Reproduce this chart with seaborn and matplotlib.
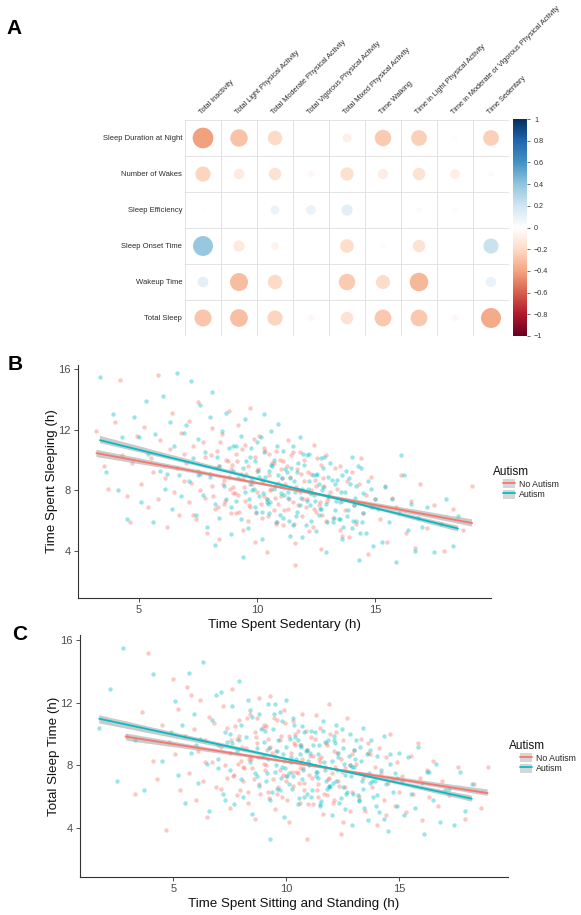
import numpy as np
import pandas as pd
import matplotlib
matplotlib.use("Agg")
import matplotlib.pyplot as plt
import seaborn as sns
from matplotlib.colors import LinearSegmentedColormap, Normalize
from matplotlib.collections import PolyCollection
from matplotlib.lines import Line2D
from matplotlib.patches import Patch
from matplotlib.legend_handler import HandlerTuple

sns.set_style("white")
plt.rcParams["font.family"] = ["Liberation Sans", "DejaVu Sans"]

# ---------------- Panel A data ----------------
activity_labels = ["Total Inactivity", "Total Light Physical Activity",
                   "Total Moderate Physical Activity", "Total Vigorous Physical Activity",
                   "Total Mixed Physical Activity", "Time Walking",
                   "Time in Light Physical Activity",
                   "Time in Moderate or Vigorous Physical Activity", "Time Sedentary"]
sleep_labels = ["Sleep Duration at Night", "Number of Wakes", "Sleep Efficiency",
                "Sleep Onset Time", "Wakeup Time", "Total Sleep"]
corr_values = [
    [-0.41, -0.29, -0.20, -0.01, -0.08, -0.26, -0.24, -0.02, -0.24],
    [-0.22, -0.11, -0.15, -0.04, -0.17, -0.10, -0.15, -0.09, -0.03],
    [0.01, 0.00, 0.08, 0.09, 0.12, 0.00, 0.03, 0.03, 0.005],
    [0.38, -0.12, -0.06, 0.005, -0.18, -0.03, -0.15, 0.00, 0.22],
    [0.11, -0.31, -0.20, 0.00, -0.26, -0.19, -0.33, -0.01, 0.10],
    [-0.28, -0.30, -0.22, -0.04, -0.15, -0.27, -0.27, -0.04, -0.38],
]
cbar_ticks = [1, 0.8, 0.6, 0.4, 0.2, 0, -0.2, -0.4, -0.6, -0.8, -1]
cbar_ticklabels = ["1", "0.8", "0.6", "0.4", "0.2", "0",
                   "\u22120.2", "\u22120.4", "\u22120.6", "\u22120.8", "\u22121"]

# ---------------- Panels B / C data ----------------
group_labels = ["No Autism", "Autism"]
group_colors = ["#F8766D", "#00BFC4"]

b_no_x = [3.2, 3.5, 3.7, 4.0, 4.2, 4.3, 4.5, 4.6, 4.7, 4.9,
          5.1, 5.2, 5.4, 5.5, 5.6, 5.8, 5.8, 5.9, 6.1, 6.2, 6.3, 6.4, 6.5, 6.6, 6.7, 6.8, 6.9, 6.9,
          7.0, 7.1, 7.1, 7.2, 7.3, 7.4, 7.5, 7.5, 7.6, 7.7, 7.8, 7.8, 7.9, 8.0, 8.1, 8.1, 8.2, 8.3, 8.4, 8.4,
          8.5, 8.6, 8.6, 8.7, 8.8, 8.8, 8.9, 8.9, 9.0, 7.3,
          9.0, 9.1, 9.1, 9.2, 9.2, 9.3, 9.4, 9.4, 9.5, 9.5, 9.6, 9.7, 9.7, 9.8, 9.9, 9.9, 10.0, 10.0,
          10.1, 10.2, 10.2, 10.3, 10.4, 10.4, 10.5, 10.5, 10.6, 10.7, 10.7, 10.8, 10.8, 10.9, 10.9, 11.0,
          9.6, 10.3,
          11.0, 11.1, 11.1, 11.2, 11.3, 11.3, 11.4, 11.5, 11.5, 11.6, 11.7, 11.8, 11.8, 11.9, 12.0, 12.0,
          12.1, 12.2, 12.3, 12.3, 12.4, 12.5, 12.5, 12.6, 12.7, 12.7, 12.8, 12.9, 12.9, 13.0, 11.6, 12.4,
          13.1, 13.2, 13.3, 13.4, 13.5, 13.5, 13.6, 13.7, 13.8, 13.9, 14.0, 14.1, 14.2, 14.3, 14.4, 14.5,
          14.6, 14.7, 14.8, 14.9, 15.0, 13.6,
          15.2, 15.4, 15.5, 15.7, 15.9, 16.1, 16.3, 16.5, 16.7, 16.9,
          17.2, 17.5, 17.9, 18.3, 18.7, 19.1,
          8.05, 8.15, 8.25, 8.35, 8.45, 8.55, 8.65, 8.75, 8.85, 8.95,
          9.05, 9.15, 9.25, 9.35, 9.45, 9.55, 9.65, 9.75, 9.85, 9.95,
          10.05, 10.15, 10.25, 10.35, 10.45, 10.55, 10.65, 10.75, 10.85, 10.95,
          11.05, 11.15, 11.25, 11.35, 11.45, 11.55, 11.65, 11.75, 11.85, 11.95,
          12.05, 12.15, 12.25, 12.35, 12.45, 12.55, 12.65, 12.75, 12.85, 12.95]
b_no_y = [11.9, 9.6, 8.1, 12.5, 15.3, 10.3, 7.6, 5.9, 9.8, 11.6,
          8.4, 12.2, 6.9, 10.1, 9.2, 15.6, 7.4, 11.3, 8.8, 5.6, 10.7, 13.1, 7.9, 9.5, 6.4, 11.8, 8.6, 10.4,
          9.8, 7.2, 12.6, 8.5, 10.9, 6.1, 9.3, 13.8, 8.0, 11.2, 7.5, 10.2, 5.2, 9.1, 12.1, 8.3, 6.8, 10.6, 9.6, 4.8,
          11.7, 8.7, 7.1, 10.0, 13.2, 8.9, 6.5, 9.4, 7.8, 6.4,
          8.2, 10.4, 6.5, 12.3, 7.7, 9.1, 5.4, 8.8, 11.0, 7.3, 9.6, 13.4, 6.9, 8.4, 10.2, 4.6, 7.9, 9.3,
          11.6, 6.2, 8.7, 10.8, 7.4, 3.9, 9.0, 10.4, 8.1, 6.7, 9.8, 5.8, 10.6, 8.5, 7.1, 9.4,
          6.0, 7.6,
          7.6, 9.9, 5.7, 8.4, 11.3, 6.8, 8.9, 10.5, 7.2, 4.5, 9.4, 7.9, 10.5, 6.3, 8.6, 10.0,
          7.4, 5.3, 9.1, 8.0, 11.0, 6.6, 8.3, 7.0, 9.7, 4.1, 8.8, 6.0, 10.3, 7.5, 3.1, 6.8,
          7.9, 6.2, 9.5, 8.1, 5.4, 9.6, 7.3, 6.7, 8.6, 4.9, 9.2, 7.0, 5.8, 8.4, 10.1, 6.5,
          7.7, 3.8, 8.9, 6.9, 7.4, 5.0,
          6.1, 8.3, 4.6, 7.5, 6.9, 9.0, 5.2, 7.3, 4.2, 8.4,
          5.5, 7.0, 4.0, 6.8, 5.4, 8.3,
          10.3, 7.6, 9.5, 6.9, 11.2, 8.4, 7.3, 9.9, 8.1, 9.7,
          7.8, 9.9, 6.6, 10.7, 8.2, 9.1, 7.0, 8.8, 11.4, 6.5,
          9.4, 7.1, 8.6, 10.6, 6.3, 8.0, 9.8, 7.5, 5.9, 10.0,
          8.8, 6.7, 9.6, 7.4, 10.3, 5.8, 8.2, 7.0, 9.1, 7.4,
          6.9, 9.2, 7.8, 5.6, 8.7, 10.1, 7.2, 6.4, 8.3, 7.3]

b_aut_x = [3.35, 3.6, 3.9, 4.1, 4.3, 4.5, 4.8, 5.0,
           5.1, 5.3, 5.4, 5.6, 5.7, 5.9, 6.0, 6.1, 6.3, 6.4, 6.5, 6.6, 6.7, 6.8, 6.9, 6.2,
           7.0, 7.1, 7.2, 7.3, 7.4, 7.5, 7.5, 7.6, 7.7, 7.8, 7.9, 8.0, 8.0, 8.1, 8.2, 8.3, 8.4, 8.4,
           8.5, 8.6, 8.7, 8.7, 8.8, 8.9, 9.0, 7.6, 8.2, 8.9,
           9.0, 9.1, 9.1, 9.2, 9.3, 9.3, 9.4, 9.5, 9.5, 9.6, 9.7, 9.7, 9.8, 9.9, 9.9, 10.0, 10.1, 10.1,
           10.2, 10.3, 10.3, 10.4, 10.5, 10.5, 10.6, 10.7, 10.7, 10.8, 10.9, 10.9, 11.0, 9.4, 9.8, 10.2,
           10.6, 10.4,
           11.0, 11.1, 11.1, 11.2, 11.3, 11.3, 11.4, 11.5, 11.5, 11.6, 11.7, 11.7, 11.8, 11.9, 11.9, 12.0,
           12.1, 12.1, 12.2, 12.3, 12.3, 12.4, 12.5, 12.5, 12.6, 12.7, 12.7, 12.8, 12.9, 12.9, 13.0, 11.4,
           11.8, 12.2, 12.6, 12.8,
           13.0, 13.1, 13.2, 13.3, 13.3, 13.4, 13.5, 13.6, 13.6, 13.7, 13.8, 13.9, 14.0, 14.0, 14.1, 14.2,
           14.3, 14.4, 14.5, 14.5, 14.6, 14.7, 14.8, 14.9, 15.0, 13.5, 14.2, 14.8,
           15.1, 15.3, 15.4, 15.6, 15.7, 15.9, 16.0, 16.2, 16.4, 16.5, 16.7, 16.8, 17.0, 16.1,
           17.2, 17.5, 17.8, 18.0, 18.3, 18.5,
           9.55, 9.65, 9.75, 9.85, 9.95, 10.05, 10.15, 10.25, 10.35, 10.45,
           10.55, 10.65, 10.75, 10.85, 10.95, 11.05, 11.15, 11.25, 11.35, 11.45,
           11.55, 11.65, 11.75, 11.85, 11.95, 12.05, 12.15, 12.25, 12.35, 12.45,
           12.55, 12.65, 12.75, 12.85, 12.95, 13.05, 13.15, 13.25, 13.35, 13.45,
           13.55, 13.65, 13.75, 13.85, 13.95, 14.05, 14.15, 14.25, 14.35, 14.45]
b_aut_y = [15.5, 9.2, 13.0, 8.0, 11.5, 6.1, 12.8, 11.5,
           7.2, 13.9, 10.4, 5.9, 11.7, 9.3, 14.2, 8.1, 12.5, 6.8, 10.9, 15.7, 9.0, 7.6, 11.8, 9.1,
           12.3, 8.6, 15.2, 10.1, 6.4, 11.4, 9.0, 13.6, 7.7, 10.5, 5.6, 12.8, 8.9, 14.5, 7.1, 10.2, 9.6, 6.2,
           11.9, 8.3, 13.1, 7.4, 10.8, 5.1, 9.3, 9.1, 4.4, 6.9,
           10.9, 7.3, 10.9, 8.8, 6.1, 11.6, 9.5, 7.9, 12.7, 5.5, 10.2, 8.4, 8.0, 6.9, 9.9, 11.2, 7.6, 8.9,
           4.8, 10.5, 13.0, 7.2, 9.3, 6.5, 11.9, 8.1, 10.0, 5.9, 9.0, 12.4, 7.8, 3.6, 8.6, 6.6,
           9.7, 7.4,
           8.3, 10.6, 6.2, 9.4, 7.9, 7.5, 8.8, 5.7, 10.9, 7.9, 9.2, 6.6, 11.5, 8.1, 4.9, 9.7,
           7.3, 10.3, 8.6, 6.0, 7.8, 7.7, 9.0, 5.3, 8.4, 10.1, 6.8, 9.5, 7.1, 3.9, 8.9, 5.0,
           7.0, 10.4, 6.4, 8.2,
           7.6, 9.8, 5.9, 8.4, 6.7, 8.7, 7.2, 4.8, 9.0, 7.9, 6.3, 8.8, 5.5, 10.2, 7.0, 8.3,
           3.4, 9.5, 6.5, 7.8, 5.2, 8.6, 6.9, 4.3, 7.4, 6.1, 6.0, 8.1,
           6.8, 4.6, 8.2, 5.9, 7.4, 3.3, 6.5, 9.0, 5.4, 7.1, 4.0, 6.2, 5.6, 10.3,
           6.9, 3.9, 5.8, 7.4, 4.3, 6.3,
           9.9, 7.4, 10.8, 8.1, 6.6, 9.3, 11.5, 7.8, 8.9, 7.1,
           7.2, 9.6, 8.3, 10.9, 6.4, 8.8, 7.7, 9.2, 6.0, 9.5,
           8.6, 6.3, 9.8, 7.5, 10.4, 5.7, 8.1, 7.0, 9.0, 7.3,
           9.1, 6.8, 8.0, 10.2, 5.9, 7.6, 8.7, 6.2, 7.3, 6.1,
           7.9, 5.6, 9.3, 6.7, 8.4, 6.0, 7.5, 9.6, 5.2, 5.9]

c_no_x = [2.92, 3.3, 3.6, 3.9, 4.1, 4.3, 4.5, 4.7, 4.8, 5.0,
          5.1, 5.2, 5.3, 5.5, 5.6, 5.7, 5.9, 6.0, 6.1, 6.2, 6.3, 6.4, 6.5, 6.6, 6.7, 6.8, 6.9, 7.0, 5.8, 6.4,
          7.1, 7.1, 7.2, 7.3, 7.4, 7.5, 7.5, 7.6, 7.7, 7.8, 7.8, 7.9, 8.0, 8.1, 8.1, 8.2, 8.3, 8.4, 8.4, 8.5,
          8.6, 8.6, 8.7, 8.8, 8.8, 8.9, 9.0, 7.4, 7.9, 8.3, 8.7, 9.0,
          9.1, 9.1, 9.2, 9.3, 9.3, 9.4, 9.5, 9.5, 9.6, 9.7, 9.7, 9.8, 9.9, 9.9, 10.0, 10.1, 10.1, 10.2,
          10.3, 10.3, 10.4, 10.5, 10.5, 10.6, 10.7, 10.7, 10.8, 10.9, 10.9, 11.0, 9.6, 10.0, 10.4, 10.8,
          9.2, 10.6,
          11.0, 11.1, 11.2, 11.2, 11.3, 11.4, 11.5, 11.5, 11.6, 11.7, 11.8, 11.8, 11.9, 12.0, 12.1, 12.1,
          12.2, 12.3, 12.4, 12.4, 12.5, 12.6, 12.6, 12.7, 12.8, 12.9, 12.9, 13.0, 11.4, 11.9, 12.5, 12.8,
          13.1, 13.2, 13.3, 13.4, 13.5, 13.6, 13.7, 13.8, 13.9, 14.0, 14.1, 14.2, 14.3, 14.4, 14.5, 14.6,
          14.7, 14.8, 14.9, 15.0, 13.6, 14.4,
          15.1, 15.3, 15.5, 15.6, 15.8, 16.0, 16.2, 16.3, 16.5, 16.7, 16.9, 15.9,
          17.2, 17.6, 17.9, 18.3, 18.6, 18.9,
          7.55, 7.65, 7.75, 7.85, 7.95, 8.05, 8.15, 8.25, 8.35, 8.45,
          8.55, 8.65, 8.75, 8.85, 8.95, 9.05, 9.15, 9.25, 9.35, 9.45,
          9.55, 9.65, 9.75, 9.85, 9.95, 10.05, 10.15, 10.25, 10.35, 10.45,
          10.55, 10.65, 10.75, 10.85, 10.95, 11.05, 11.15, 11.25, 11.35, 11.45,
          11.55, 11.65, 11.75, 11.85, 11.95, 12.05, 12.15, 12.25, 12.35, 12.45]
c_no_y = [9.9, 6.2, 11.4, 15.2, 8.3, 7.1, 10.6, 3.9, 9.5, 13.5,
          8.7, 11.6, 6.4, 9.9, 13.0, 7.5, 10.3, 5.8, 8.9, 12.2, 7.0, 9.6, 4.7, 11.1, 8.2, 10.7, 6.6, 9.3, 12.5, 8.2,
          9.2, 6.5, 11.8, 8.0, 10.4, 5.3, 8.8, 12.9, 7.4, 9.7, 6.1, 10.9, 8.3, 7.9, 7.0, 9.1, 5.6, 11.3, 8.6, 7.8,
          10.1, 4.6, 9.4, 12.3, 6.8, 8.5, 10.6, 7.2, 9.9, 6.3, 11.0, 8.1,
          8.0, 10.5, 6.3, 9.2, 12.4, 7.1, 8.6, 5.2, 10.9, 7.7, 9.6, 6.0, 11.5, 8.3, 7.0, 9.9, 4.4, 8.8,
          10.8, 6.7, 9.3, 7.5, 10.2, 5.6, 8.4, 11.3, 6.9, 9.0, 3.3, 8.1, 6.2, 7.3, 10.0, 6.4,
          9.7, 7.8,
          7.4, 9.8, 5.5, 8.6, 11.2, 6.8, 8.2, 10.4, 4.9, 7.9, 9.3, 6.1, 11.9, 7.5, 8.9, 5.8,
          10.1, 7.0, 8.4, 3.6, 9.6, 6.6, 7.8, 11.0, 5.1, 8.7, 6.3, 9.0, 6.0, 7.2, 4.4, 8.0,
          8.1, 6.0, 9.7, 7.2, 5.1, 8.8, 8.7, 6.6, 7.9, 4.2, 9.1, 7.5, 5.8, 8.5, 6.9, 10.0,
          7.1, 5.4, 8.2, 6.3, 9.4, 4.8,
          7.3, 5.0, 8.6, 6.2, 9.4, 4.5, 7.7, 6.0, 8.3, 5.4, 7.0, 7.2,
          6.1, 7.9, 4.6, 6.8, 5.3, 7.9,
          9.6, 7.3, 10.5, 8.1, 6.4, 9.2, 7.8, 11.0, 8.4, 8.4,
          7.1, 9.8, 8.5, 6.2, 10.4, 7.7, 9.0, 5.9, 8.8, 11.0,
          8.9, 6.6, 9.9, 7.4, 10.7, 5.8, 8.3, 7.6, 9.4, 7.6,
          6.9, 9.3, 7.8, 10.2, 5.5, 8.6, 7.2, 9.7, 6.4, 8.4,
          8.5, 6.2, 9.4, 7.1, 10.0, 5.6, 7.9, 8.8, 6.7, 7.6]

c_aut_x = [1.73, 2.8, 2.5, 2.2, 3.3, 3.7, 4.1, 4.5, 4.9,
           5.1, 5.2, 5.4, 5.5, 5.7, 5.8, 5.9, 6.1, 6.2, 6.3, 6.5, 6.6, 6.7, 6.9, 7.0, 6.0,
           7.0, 7.1, 7.2, 7.3, 7.4, 7.5, 7.6, 7.6, 7.7, 7.8, 7.9, 8.0, 8.0, 8.1, 8.2, 8.3, 8.4, 8.5, 8.5, 8.6,
           8.7, 8.8, 8.8, 8.9, 9.0, 7.3, 7.9, 8.4, 8.7, 7.5,
           9.0, 9.1, 9.2, 9.2, 9.3, 9.4, 9.5, 9.5, 9.6, 9.7, 9.8, 9.8, 9.9, 10.0, 10.0, 10.1, 10.2, 10.3,
           10.3, 10.4, 10.5, 10.6, 10.6, 10.7, 10.8, 10.9, 10.9, 11.0, 9.3, 9.7, 10.1, 10.5, 10.8, 9.6,
           10.2, 10.7,
           11.0, 11.1, 11.1, 11.2, 11.3, 11.4, 11.4, 11.5, 11.6, 11.7, 11.7, 11.8, 11.9, 12.0, 12.0, 12.1,
           12.2, 12.2, 12.3, 12.4, 12.5, 12.5, 12.6, 12.7, 12.8, 12.8, 12.9, 13.0, 11.3, 11.6, 11.9, 12.3,
           12.6, 12.9, 11.5, 12.1,
           13.0, 13.1, 13.2, 13.3, 13.4, 13.4, 13.5, 13.6, 13.7, 13.8, 13.9, 14.0, 14.0, 14.1, 14.2, 14.3,
           14.4, 14.5, 14.6, 14.6, 14.7, 14.8, 14.9, 15.0, 13.2, 13.7, 14.3, 14.9,
           15.1, 15.2, 15.4, 15.5, 15.7, 15.8, 16.0, 16.1, 16.3, 16.5, 16.6, 16.8, 17.0, 16.2,
           17.2, 17.4, 17.7, 17.9, 18.2,
           9.05, 9.15, 9.25, 9.35, 9.45, 9.55, 9.65, 9.75, 9.85, 9.95,
           10.05, 10.15, 10.25, 10.35, 10.45, 10.55, 10.65, 10.75, 10.85, 10.95,
           11.05, 11.15, 11.25, 11.35, 11.45, 11.55, 11.65, 11.75, 11.85, 11.95,
           12.05, 12.15, 12.25, 12.35, 12.45, 12.55, 12.65, 12.75, 12.85, 12.95,
           13.05, 13.15, 13.25, 13.35, 13.45, 13.55, 13.65, 13.75, 13.85, 13.95]
c_aut_y = [10.4, 15.5, 7.0, 12.9, 9.6, 6.4, 13.8, 8.3, 10.1,
           12.1, 7.4, 10.6, 5.6, 13.9, 8.8, 11.3, 6.9, 9.7, 14.6, 8.1, 5.1, 10.9, 12.5, 7.8, 9.3,
           8.4, 12.7, 6.2, 10.1, 9.5, 7.7, 9.4, 11.8, 5.5, 8.9, 13.4, 7.1, 10.6, 6.0, 9.8, 12.2, 8.2, 4.9, 11.1, 7.5,
           9.1, 11.3, 6.7, 10.3, 8.6, 5.8, 9.6, 11.5, 7.3, 10.0,
           9.5, 7.0, 11.9, 8.4, 5.8, 10.3, 7.6, 11.9, 8.9, 6.4, 10.8, 7.9, 4.7, 9.2, 12.2, 6.8, 8.5, 11.0,
           7.3, 9.8, 5.5, 8.7, 9.3, 7.1, 10.1, 6.2, 9.0, 8.0, 3.3, 11.4, 7.5, 9.6, 6.0, 6.5,
           8.2, 10.5,
           8.1, 10.2, 6.0, 9.3, 7.3, 7.2, 8.7, 5.4, 10.8, 7.7, 9.5, 6.5, 6.6, 8.3, 4.8, 9.9,
           7.0, 10.6, 8.5, 5.9, 9.1, 6.6, 7.4, 6.3, 10.0, 8.0, 4.2, 9.0, 7.6, 10.2, 6.7, 8.8,
           5.2, 7.9, 5.5, 9.6,
           7.9, 9.6, 5.7, 8.3, 10.4, 6.5, 7.4, 4.5, 9.0, 7.0, 7.0, 6.1, 8.6, 5.0, 7.7, 9.9,
           6.8, 3.8, 8.1, 8.7, 6.3, 7.5, 5.4, 8.8, 5.8, 6.9, 4.6, 7.2,
           7.0, 4.8, 8.5, 6.2, 5.3, 9.2, 6.9, 3.6, 7.6, 5.8, 8.1, 4.4, 6.4, 7.6,
           6.5, 4.2, 7.6, 5.1, 6.8,
           10.2, 7.5, 9.1, 6.3, 11.3, 8.0, 9.6, 7.2, 8.7, 7.8,
           7.3, 9.7, 6.5, 10.6, 8.4, 5.9, 9.2, 7.7, 8.9, 8.3,
           8.8, 6.4, 10.1, 7.6, 9.3, 5.7, 8.2, 7.0, 9.6, 6.7,
           6.9, 9.4, 7.7, 5.6, 10.3, 8.1, 6.2, 8.6, 7.3, 6.2,
           8.4, 6.1, 9.2, 7.0, 5.3, 8.7, 7.5, 9.6, 6.0, 5.4]

# ---------------- figure ----------------
W, H = 581, 915
fig = plt.figure(figsize=(W / 100, H / 100), dpi=100)


def fax(x0, y0, x1, y1):
    return fig.add_axes([x0 / W, 1 - y1 / H, (x1 - x0) / W, (y1 - y0) / H])


# ---- Panel A: correlation circles ----
corr_long = pd.DataFrame(
    [(j, i, corr_values[i][j]) for i in range(len(sleep_labels)) for j in range(len(activity_labels))],
    columns=["col", "row", "r"])
corr_long["size"] = corr_long["r"].abs()
cmap = LinearSegmentedColormap.from_list(
    "corrplot", ["#67001F", "#B2182B", "#D6604D", "#F4A582", "#FDDBC7", "#FFFFFF",
                 "#D1E5F0", "#92C5DE", "#4393C3", "#2166AC", "#053061"])

axA = fax(185, 120, 509, 336)
sns.scatterplot(data=corr_long, x="col", y="row", hue="r", size="size", palette=cmap,
                hue_norm=(-1, 1), sizes=(0, 540), size_norm=(0, 1), legend=False,
                linewidth=0, ax=axA, zorder=3)
axA.set_xlim(-0.5, len(activity_labels) - 0.5)
axA.set_ylim(len(sleep_labels) - 0.5, -0.5)
axA.set_xticks(range(len(activity_labels)))
axA.set_xticklabels(activity_labels, rotation=45, ha="left", va="bottom",
                    rotation_mode="anchor", fontsize=5.3, color="#2b2b2b")
axA.xaxis.tick_top()
axA.set_yticks(range(len(sleep_labels)))
axA.set_yticklabels(sleep_labels, fontsize=5.5, color="#2b2b2b")
axA.set_xticks(np.arange(-0.5, len(activity_labels)), minor=True)
axA.set_yticks(np.arange(-0.5, len(sleep_labels)), minor=True)
axA.grid(which="minor", color="#dedede", lw=0.6)
axA.grid(which="major", visible=False)
axA.tick_params(which="both", length=0, pad=2)
axA.tick_params(axis="x", pad=3)
axA.set_xlabel("")
axA.set_ylabel("")
for s in axA.spines.values():
    s.set_visible(False)

caxA = fax(513, 119, 527, 336)
sm = plt.cm.ScalarMappable(norm=Normalize(-1, 1), cmap=cmap)
cb = fig.colorbar(sm, cax=caxA, ticks=cbar_ticks)
cb.ax.set_yticklabels(cbar_ticklabels)
cb.outline.set_visible(False)
cb.ax.tick_params(labelsize=5.2, length=2, width=0.5, colors="#333333", pad=3)

# ---- Panels B and C ----
def scatter_panel(ax, xs_list, ys_list, xlabel, ylabel, xlim, ylim):
    for xs, ys, color in zip(xs_list, ys_list, group_colors):
        n0 = len(ax.collections)
        sns.regplot(x=np.array(xs), y=np.array(ys), ax=ax, color=color, ci=45,
                    n_boot=400, seed=3,
                    scatter_kws=dict(s=10, alpha=0.4, linewidths=0, zorder=1),
                    line_kws=dict(lw=1.3, zorder=6))
        for c in ax.collections[n0:]:
            if isinstance(c, PolyCollection):
                c.set_facecolor("#a0a0a0")
                c.set_alpha(0.55)
                c.set_edgecolor("none")
                c.set_zorder(5)
    ax.set_xlim(*xlim)
    ax.set_ylim(*ylim)
    ax.set_xticks([5, 10, 15])
    ax.set_yticks([4, 8, 12, 16])
    for side in ["top", "right"]:
        ax.spines[side].set_visible(False)
    for side in ["left", "bottom"]:
        ax.spines[side].set_color("#333333")
        ax.spines[side].set_linewidth(0.8)
    ax.tick_params(direction="out", length=3, width=0.6, color="#333333",
                   labelcolor="#4D4D4D", labelsize=8, left=True, bottom=True, pad=2)
    ax.set_xlabel(xlabel, fontsize=9.6, color="#111111", labelpad=3)
    ax.set_ylabel(ylabel, fontsize=9.6, color="#111111", labelpad=0.5)


axB = fax(78, 365, 491, 598)
scatter_panel(axB, [b_no_x, b_aut_x], [b_no_y, b_aut_y],
              "Time Spent Sedentary (h)", "Time Spent Sleeping (h)", (2.42, 19.9), (0.9, 16.26))

axC = fax(80, 635, 508, 877)
scatter_panel(axC, [c_no_x, c_aut_x], [c_no_y, c_aut_y],
              "Time Spent Sitting and Standing (h)", "Total Sleep Time (h)", (0.88, 19.8), (0.87, 16.32))


def add_legend(title_xy, box_xy):
    fig.text(title_xy[0] / W, 1 - title_xy[1] / H, "Autism", fontsize=8.5,
             ha="left", va="center", color="#111111")
    handles = [(Patch(facecolor="#d6d6d6", edgecolor="none"),
                Line2D([], [], color=c, lw=1.3)) for c in group_colors]
    fig.legend(handles, group_labels, handler_map={tuple: HandlerTuple(ndivide=1, pad=0)},
               loc="upper left", bbox_to_anchor=(box_xy[0] / W, 1 - box_xy[1] / H),
               frameon=False, fontsize=6.3, handlelength=1.4, handleheight=1.25,
               labelspacing=0.12, handletextpad=0.4, borderaxespad=0, borderpad=0)


add_legend((493, 472), (503, 479))
add_legend((509, 746), (520, 753))

for letter, (x, y) in zip(["A", "B", "C"], [(14, 29), (15, 365), (20, 634)]):
    fig.text(x / W, 1 - y / H, letter, fontsize=15, fontweight="bold",
             ha="center", va="center", color="black")

fig.savefig("out.png", dpi=100)
